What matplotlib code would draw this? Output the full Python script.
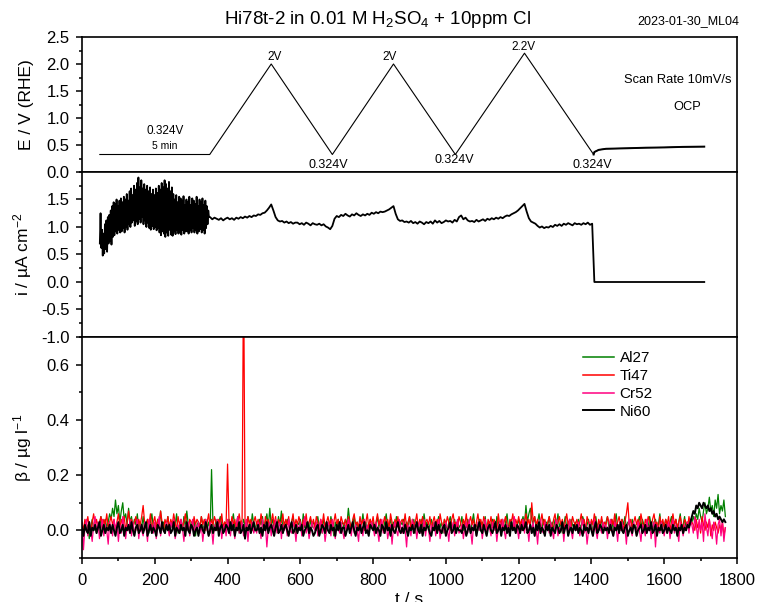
import numpy as np
import matplotlib.pyplot as plt
from matplotlib.ticker import MultipleLocator

plt.rcParams['font.family'] = ['Liberation Sans', 'DejaVu Sans']
plt.rcParams['mathtext.fontset'] = 'custom'
plt.rcParams['mathtext.rm'] = 'Liberation Sans'
plt.rcParams['mathtext.it'] = 'Liberation Sans:italic'
plt.rcParams['axes.unicode_minus'] = False

# potential programme: sweep vertices (s, V vs RHE), then OCP
t_e = [49, 351, 520, 688, 856, 1026, 1216, 1406, 1408, 1420, 1440, 1500, 1550, 1600, 1650, 1710]
e_v = [0.324, 0.324, 2.0, 0.324, 2.0, 0.324, 2.2, 0.324, 0.37, 0.41, 0.43, 0.44, 0.45, 0.455, 0.465, 0.47]

# current density, units of 0.01 uA/cm2
# hold at 0.324 V, sampled every 2 s from t = 49 s
i_hold = [
    70, 125, 62, 95, 48, 88, 52, 105, 60, 112,
    55, 118, 70, 122, 75, 130, 68, 138, 82, 145,
    85, 142, 92, 150, 88, 138, 95, 148, 90, 152,
    92, 145, 98, 155, 90, 150, 100, 160, 95, 148,
    105, 165, 100, 170, 108, 158, 112, 175, 102, 168,
    110, 180, 105, 190, 115, 172, 108, 185, 118, 170,
    105, 178, 112, 168, 100, 175, 108, 165, 98, 172,
    95, 160, 102, 168, 96, 158, 100, 170, 94, 162,
    98, 175, 90, 168, 85, 180, 92, 172, 88, 185,
    82, 178, 90, 170, 84, 182, 95, 165, 86, 172,
    84, 160, 92, 150, 87, 158, 95, 145, 88, 155,
    90, 152, 86, 148, 95, 156, 88, 140, 92, 150,
    92, 145, 88, 155, 95, 140, 90, 152, 98, 148,
    90, 142, 95, 155, 88, 138, 92, 150, 96, 145,
    90, 152, 95, 140, 88, 148, 98, 138, 105, 130,
    118,
]
# cyclic sweeps, sampled every 6 s from t = 352 s
i_sweep = [
    118, 114, 117, 115, 113, 116, 112, 115, 117, 114,
    116, 113, 117, 115, 118, 116, 119, 117, 120, 118,
    121, 120, 123, 122, 125, 126, 130, 135, 141, 130,
    118, 112, 110, 111, 108, 110, 107, 109, 106, 108,
    108, 105, 107, 104, 108, 106, 103, 107, 105, 104,
    106, 103, 105, 101, 99, 96, 102, 115, 120, 118,
    122, 120, 124, 121, 119, 123, 121, 125, 122, 120,
    123, 121, 124, 122, 126, 124, 127, 125, 128, 127,
    128, 130, 132, 135, 138, 124, 114, 111, 112, 109,
    110, 108, 111, 107, 109, 106, 110, 108, 105, 109,
    107, 110, 106, 112, 108, 111, 107, 109, 112, 110,
    111, 108, 113, 110, 118, 121, 114, 117, 112, 110,
    111, 109, 113, 110, 112, 114, 111, 115, 113, 116,
    114, 117, 115, 118, 116, 119, 121, 120, 123, 125,
    127, 130, 134, 138, 142, 128, 116, 110, 108, 106,
    102, 99, 101, 98, 100, 99, 102, 100, 104, 102,
    105, 102, 106, 104, 107, 105, 103, 107, 105, 106,
    104, 107, 105, 108, 104, 106,
]
# OCP: no current
t_ocp = [1408, 1710]
i_ocp = [0, 0]

# ICP-MS concentrations, units of 0.01 ug/l, sampled every 4 s from t = 0
al27 = [
    1, -2, 3, 0, 2, -3, 1, 4, 0, 2, -1, 3, 1, 5, 0, 2, 4, 1, 3, 6,
    4, 8, 5, 11, 6, 9, 3, 7, 10, 4, 6, 2, 8, 3, 5, 1, 4, 2, 6, 0,
    3, 1, 5, 0, 2, 4, -1, 3, 6, 1, 2, 0, 4, 2, 7, 1, 3, -1, 2, 5,
    0, 3, 1, 4, 2, 6, -1, 2, 3, 0, 5, 1, 7, 2, 0, 3, 1, 4, -2, 2,
    3, 1, 5, 2, 0, 4, 1, 3, -1, 22, 2, 0, 4, 1, 3, 5, 2, 0, 3, 1,
    2, 4, 0, 3, 6, 1, 2, 5, -1, 3, 1, 4, 2, 0, 5, 3, 1, 6, 2, 0,
    3, 1, 4, 2, 5, 0, 3, 6, 1, 8, 2, 4, 0, 3, 1, 5, 2, 7, 0, 3,
    1, 4, 2, 0, 3, 5, 1, -2, 3, 2, 4, 0, 6, 1, 3, 2, 0, 4, 1, 3,
    2, 0, 5, 1, 3, -1, 4, 2, 0, 3, 1, 5, 2, -2, 3, 1, 4, 0, 2, 3,
    1, 4, 2, 8, 3, 0, 2, 5, 1, 3, 0, 4, 2, 6, 1, 3, -1, 2, 4, 1,
    3, 0, 2, 5, 1, 4, 2, 0, 3, 6, 1, 2, 4, 0, 3, 1, 5, 2, 0, 3,
    2, 4, 1, 3, 0, 5, 2, 1, 4, -1, 3, 2, 0, 4, 1, 6, 2, 3, 0, 2,
    4, 1, 3, 0, 2, 5, 1, 3, -1, 4, 2, 0, 3, 5, 1, 2, 4, 0, 3, 1,
    2, 5, 0, 3, 1, 4, 2, -1, 3, 6, 1, 2, 0, 4, 2, 3, 1, 5, 0, 2,
    3, 1, 4, 2, 0, 5, 3, 1, 2, 4, 0, 3, 6, 1, 2, 4, 1, 3, 0, 2,
    4, 1, 3, 5, 2, 9, 3, 6, 8, 4, 2, 5, 1, 3, 6, 2, 0, 4, 1, 3,
    2, 5, 1, 3, 0, 4, 2, 6, 1, 3, -1, 2, 5, 1, 3, 0, 4, 2, 1, 3,
    0, 4, 2, 1, 5, 3, 0, 2, 4, 1, 3, -1, 2, 5, 1, 3, 0, 4, 2, 1,
    3, 5, 1, 2, 4, 0, 3, 6, 1, 2, 0, 4, 2, 5, 1, 3, 2, 0, 4, 1,
    2, 0, 3, 5, 1, 4, 2, -1, 3, 1, 5, 2, 0, 3, 4, 1, 2, 6, 0, 3,
    1, 4, 2, 0, 3, 5, 1, 2, 4, 0, 3, 6, 1, 2, 5, 0, 3, 2, 4, 3,
    5, 3, 6, 4, 8, 5, 3, 7, 10, 6, 8, 12, 7, 9, 5, 11, 8, 13, 6, 9,
    7, 11, 5,
]
ti47 = [
    3, 0, 4, 2, 5, 1, -1, 3, 6, 2, 4, 0, 3, 5, 1, 4, 2, 6, 1, 3,
    5, 2, 4, 0, 3, 6, 1, 4, 2, 5, 0, 3, 7, 2, 4, 1, 3, 5, 0, 4,
    2, 5, 9, 3, 1, 4, 2, 6, 0, 3, 5, 1, 4, 2, 7, 3, 0, 4, 2, 5,
    1, 4, 2, 6, 3, 0, 5, 2, 4, 1, 3, 6, 2, 0, 4, 3, 1, 5, 2, 4,
    3, 1, 5, 2, 4, 0, 3, 6, 1, 4, 2, 5, 3, 0, 4, 2, 6, 1, 3, 2,
    24, 3, 1, 5, 2, 4, 0, 3, 6, 2, 4, 100, 3, 1, 5, 2, 4, 0, 3, 5,
    2, 4, 1, 6, 3, 0, 5, 2, 4, 1, 3, 6, 2, 5, 0, 4, 2, 3, 6, 1,
    4, 2, 5, 0, 3, 6, 1, 4, 2, 5, 3, 0, 4, 2, 6, 1, 3, 5, 2, 4,
    1, 5, 3, 0, 4, 2, 6, 1, 3, 5, 2, 4, 0, 3, 6, 2, 4, 1, 5, 3,
    2, 4, 1, 5, 3, 0, 4, 6, 2, 3, 1, 5, 2, 4, 0, 3, 6, 1, 4, 2,
    5, 1, 3, 6, 2, 4, 0, 3, 5, 2, 4, 1, 6, 3, 0, 4, 2, 5, 1, 3,
    4, 2, 6, 1, 3, 5, 0, 4, 2, 3, 6, 1, 4, 2, 5, 0, 3, 4, 2, 5,
    1, 3, 5, 2, 4, 0, 6, 3, 1, 4, 2, 5, 3, 0, 4, 6, 2, 3, 1, 5,
    3, 0, 4, 2, 6, 1, 3, 5, 2, 4, 0, 3, 6, 2, 4, 1, 5, 3, 0, 4,
    2, 5, 1, 4, 3, 0, 6, 2, 4, 1, 3, 5, 2, 0, 4, 3, 6, 1, 4, 2,
    5, 2, 4, 0, 3, 6, 2, 4, 1, 10, 3, 5, 2, 4, 0, 3, 6, 2, 4, 1,
    3, 5, 2, 0, 4, 6, 1, 3, 5, 2, 4, 0, 3, 6, 2, 4, 1, 5, 3, 2,
    4, 1, 3, 6, 2, 4, 0, 5, 3, 1, 4, 2, 6, 3, 0, 4, 2, 5, 1, 3,
    2, 5, 3, 0, 4, 2, 6, 1, 3, 5, 2, 4, 0, 3, 6, 10, 2, 4, 1, 3,
    5, 2, 4, 1, 6, 3, 0, 4, 2, 5, 3, 1, 4, 6, 2, 3, 0, 5, 2, 4,
    1, 4, 2, 5, 0, 3, 6, 2, 4, 1, 3, 5, 2, 0, 4, 3, 1, 5, 2, 3,
    2, 0, 4, 1, 3, -1, 5, 2, 0, 3, 1, 4, -2, 2, 0, 3, 1, -1, 2, 0,
    3, -2, 1,
]
cr52 = [
    2, -7, 1, 4, -2, 3, 0, -4, 2, 5, -1, 3, -3, 1, 4, -2, 2, 0, -5, 3,
    1, -2, 4, 0, 3, -4, 2, -1, 5, 1, -3, 2, 0, 4, -2, 3, -1, 1, 4, -3,
    2, 0, -2, 3, 1, -4, 4, 0, 2, -1, 3, -3, 1, 5, -2, 2, 0, -1, 3, 1,
    -2, 3, 1, 4, -3, 0, 2, -1, 4, 1, -4, 2, 0, 3, -2, 1, 4, -1, 2, 0,
    3, -1, 2, -4, 1, 4, 0, -2, 3, 1, -5, 2, 0, 4, -1, 3, -3, 1, 2, -2,
    4, 0, -2, 3, 1, -3, 2, 5, -1, 0, 3, -2, 1, 4, -4, 2, 0, 3, -1, 1,
    -1, 3, 1, -3, 4, 0, 2, -6, 1, 3, -2, 2, 0, 4, -1, 1, 3, -3, 2, 0,
    2, -2, 4, 0, -1, 3, 1, -4, 2, 0, 3, -2, 1, 5, -1, 2, -3, 0, 3, 1,
    0, 3, -2, 1, 4, -1, 2, -4, 0, 3, 1, -2, 4, 0, -3, 2, 1, -1, 3, 0,
    -3, 2, 0, 4, 1, -2, 3, -1, 2, 0, -4, 3, 1, -2, 4, 0, 2, -1, 1, 3,
    1, -2, 3, 0, -4, 2, 4, -1, 1, 3, -3, 0, 2, -5, 1, 3, 0, -2, 4, 1,
    -1, 3, 0, -6, 2, 1, -2, 4, 0, 2, -3, 1, 3, -1, 0, 4, -2, 2, 1, -4,
    2, 0, 3, -2, 1, 4, -3, 0, 2, -1, 3, 1, -4, 2, 0, 3, -2, 1, 4, -1,
    0, 2, -3, 1, 3, -1, 4, 0, -5, 2, 1, -2, 3, 0, 2, -3, 1, 4, -1, 2,
    1, -2, 3, 0, 2, -4, 1, 3, -1, 4, 0, -3, 2, 1, -2, 3, 0, 5, -1, 1,
    -3, 2, 0, 4, -1, 3, 1, -4, 2, 0, 3, -2, 1, -5, 2, 4, 0, -1, 3, 1,
    2, -1, 3, 0, -3, 2, 4, -2, 1, 0, 3, -4, 2, 1, -1, 4, 0, -3, 2, 1,
    0, 3, -2, 1, 4, -1, 2, -5, 0, 3, 1, -2, 4, 0, -3, 2, 1, -1, 3, 0,
    2, -3, 1, 4, 0, -2, 3, 1, -4, 2, 0, 3, -1, 1, -5, 2, 4, 0, -2, 3,
    1, -1, 3, 0, -4, 2, 1, -2, 4, 0, 2, -3, 1, 3, -6, 2, 0, -1, 3, 1,
    -2, 2, 0, 3, -3, 1, 4, -1, 2, 0, -4, 3, 1, -2, 2, 0, 3, -1, 4, 2,
    -1, 5, 2, -3, 4, 0, 3, -4, 6, 1, -2, 4, 0, -3, 3, 1, -5, 2, 4, -2,
    3, -4, 1,
]
ni60 = [
    1, -2, 2, 0, -1, 3, -2, 1, 0, 2, -1, 1, 3, -2, 0, 2, -1, 1, 0, 2,
    -1, 2, 0, -2, 1, 3, -1, 0, 2, -2, 1, 0, 2, -1, 3, 0, -2, 1, 2, -1,
    0, 2, -1, 1, 3, -2, 0, 2, -1, 1, 0, -2, 2, 1, -1, 3, 0, -1, 2, 0,
    2, -1, 0, 3, -2, 1, 0, -1, 2, 0, 1, -2, 3, 0, -1, 2, 1, -2, 0, 1,
    -2, 1, 2, 0, -1, 3, 1, -2, 0, 2, -1, 1, 0, 3, -2, 1, 2, -1, 0, 2,
    1, -1, 3, 0, 2, -2, 1, 0, 3, -1, 0, 2, -3, 1, 0, 2, -1, 1, 3, 0,
    0, 2, -1, 1, -2, 2, 0, 3, -1, 1, 2, 0, -2, 1, 3, -1, 0, 2, -1, 1,
    2, 0, -2, 1, 3, -1, 0, 2, -1, 1, 0, 2, -2, 0, 1, 3, -1, 1, 0, -2,
    -1, 1, 2, -2, 0, 2, 1, -1, 3, 0, -1, 2, 0, 1, -2, 2, 0, 3, -1, 1,
    1, -2, 0, 2, -1, 1, 3, 0, -2, 1, 0, 2, -1, 1, 3, -1, 0, -2, 2, 1,
    0, 2, -1, 1, 0, -2, 2, 1, -1, 3, 0, 1, -2, 2, 0, -1, 1, 3, 0, -1,
    1, -1, 2, 0, -2, 1, 0, 2, -1, 1, 3, 0, -1, 2, -2, 1, 0, 2, 1, -1,
    -2, 1, 0, 3, -1, 2, 0, -1, 1, 2, -2, 0, 1, 3, -1, 0, 2, -1, 1, 0,
    0, -1, 2, 1, -2, 0, 2, -1, 1, 0, 2, -2, 1, 3, 0, -1, 2, 0, -2, 1,
    2, 0, -1, 1, 3, -1, 0, 2, -2, 1, 0, 2, -1, 1, -2, 3, 0, 1, -1, 2,
    1, -1, 2, 0, 1, 3, -1, 0, 2, -1, 1, -2, 2, 0, 3, -1, 1, 0, -2, 2,
    0, 2, -2, 1, 0, -1, 2, 1, -1, 0, 3, -1, 1, 2, -2, 0, 1, -1, 2, 0,
    2, -1, 1, 0, -2, 2, 0, 1, -1, 2, 0, -2, 1, 3, -1, 0, 2, 1, -1, 1,
    0, 1, -1, 2, 0, -2, 1, 0, 2, -1, 3, 0, -1, 1, 2, -2, 0, 1, -1, 2,
    1, -2, 0, 1, 2, -1, 0, 2, -1, 1, 0, 3, -1, 0, 2, -2, 1, 0, 2, -1,
    0, 2, -1, 1, 0, -1, 2, 0, 1, -2, 1, 0, 2, -1, 1, 0, 2, 1, 3, 5,
    7, 6, 9, 8, 10, 9, 8, 10, 9, 8, 9, 7, 8, 6, 7, 5, 6, 4, 5, 4,
    3, 4, 3,
]
icp_series = [('Al27', al27, '#008000', 0.9),
              ('Ti47', ti47, '#ff0000', 0.9),
              ('Cr52', cr52, '#ff0080', 0.9),
              ('Ni60', ni60, 'black', 1.4)]

fig = plt.figure(figsize=(7.59, 6.02), dpi=100)
x0, w = 82 / 759, 655 / 759
ax_e = fig.add_axes([x0, 1 - 172 / 602, w, 135 / 602])
ax_i = fig.add_axes([x0, 1 - 337 / 602, w, 165 / 602], sharex=ax_e)
ax_c = fig.add_axes([x0, 1 - 558 / 602, w, 221 / 602], sharex=ax_e)

for ax in (ax_e, ax_i, ax_c):
    for s in ax.spines.values():
        s.set_linewidth(1.2)
    ax.tick_params(which='both', direction='out', right=False, top=False,
                   labelsize=12, width=1.1, pad=5)
    ax.tick_params(which='major', length=4)
    ax.tick_params(which='minor', length=2.5)
for ax in (ax_e, ax_i):
    ax.tick_params(axis='x', which='both', bottom=False, labelbottom=False)
ax_c.tick_params(axis='x', pad=7)

# E programme
ax_e.plot(t_e, e_v, color='black', lw=0.8)
ax_e.plot(t_e[7:], e_v[7:], color='black', lw=1.4)
ax_e.set_ylim(0, 2.5)
ax_e.yaxis.set_major_locator(MultipleLocator(0.5))
ax_e.yaxis.set_minor_locator(MultipleLocator(0.25))
ax_e.set_ylabel('E / V (RHE)', fontsize=12.5)
ax_e.yaxis.set_label_coords(-0.073, 0.5)

notes = [('0.324V', 228, 0.76, 8.5), ('5 min', 228, 0.48, 7.5),
         ('2V', 528, 2.13, 8.5), ('2V', 845, 2.13, 8.5), ('2.2V', 1213, 2.31, 8.5),
         ('0.324V', 676, 0.13, 9), ('0.324V', 1024, 0.22, 9), ('0.324V', 1403, 0.13, 9),
         ('Scan Rate 10mV/s', 1638, 1.70, 9.3), ('OCP', 1663, 1.20, 9.3)]
for txt, x, y, fs in notes:
    ax_e.text(x, y, txt, ha='center', va='center', fontsize=fs)

# current density
t_hold = 49 + 2 * np.arange(len(i_hold))
t_sweep = 352 + 6 * np.arange(len(i_sweep))
t_i = np.concatenate([t_hold, t_sweep, t_ocp])
i_all = np.concatenate([i_hold, i_sweep, i_ocp]) / 100
ax_i.plot(t_i, i_all, color='black', lw=1.3)
ax_i.set_ylim(-1.0, 2.0)
ax_i.set_yticks(np.arange(-1.0, 1.51, 0.5))
ax_i.yaxis.set_minor_locator(MultipleLocator(0.25))
ax_i.set_ylabel(r'i / µA cm$^{\mathregular{-2}}$', fontsize=12.5)
ax_i.yaxis.set_label_coords(-0.073, 0.5)

# dissolved metals
for name, vals, col, lw in icp_series:
    t = 4 * np.arange(len(vals))
    ax_c.plot(t, np.array(vals) / 100, color=col, lw=lw, label=name)
ax_c.set_ylim(-0.1, 0.7)
ax_c.set_yticks([0.0, 0.2, 0.4, 0.6])
ax_c.yaxis.set_minor_locator(MultipleLocator(0.1))
ax_c.set_xlim(0, 1800)
ax_c.xaxis.set_major_locator(MultipleLocator(200))
ax_c.xaxis.set_minor_locator(MultipleLocator(100))
ax_c.set_ylabel(r'β / µg l$^{\mathregular{-1}}$', fontsize=12.5)
ax_c.yaxis.set_label_coords(-0.073, 0.5)
ax_c.set_xlabel('t / s', fontsize=12.5, labelpad=3)
leg = ax_c.legend(loc='upper left', bbox_to_anchor=(0.765, 0.935), frameon=False,
                  fontsize=11, handlelength=2.0, handletextpad=0.4, labelspacing=0.25,
                  borderpad=0, borderaxespad=0)
for line in leg.get_lines()[:3]:
    line.set_linewidth(1.1)

fig.text(377 / 759, 1 - 19 / 602, r'Hi78t-2 in 0.01 M H$_{\mathregular{2}}$SO$_{\mathregular{4}}$ + 10ppm Cl',
         ha='center', va='center', fontsize=13.5)
fig.text(688 / 759, 1 - 21 / 602, '2023-01-30_ML04', ha='center', va='center', fontsize=9)

fig.savefig('out.png', dpi=100)
